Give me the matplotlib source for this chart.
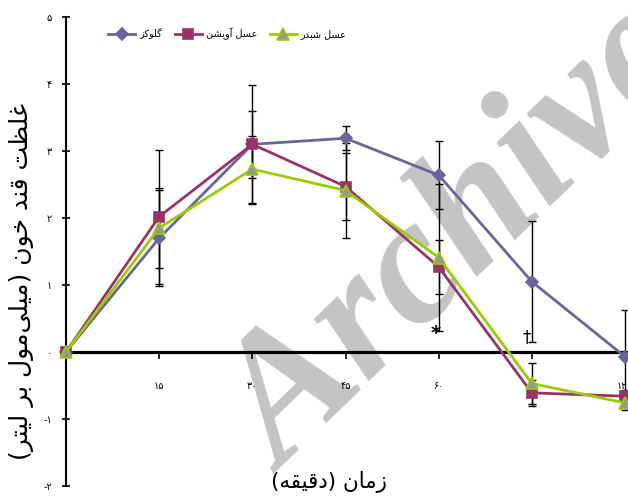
import matplotlib
matplotlib.use("Agg")
import matplotlib.pyplot as plt
import numpy as np

# ---------------- data ----------------
time_labels = ['۰', '۱۵', '۳۰', '۴۵', '۶۰', '۹۰', '۱۲۰']
glucose = [0, 1.70, 3.10, 3.19, 2.64, 1.05, -0.07]
glucose_err = [0, 0.72, 0.50, 0.18, 0.51, 0.90, 0.70]
thyme = [0, 2.02, 3.10, 2.47, 1.27, -0.61, -0.66]
thyme_err = [0, 1.00, 0.89, 0.50, 0.40, 0.19, 0.10]
clover = [0, 1.85, 2.73, 2.41, 1.41, -0.47, -0.76]
clover_err = [0, 0.60, 0.50, 0.71, 1.10, 0.30, 0.10]
series_names = ['گلوکز', 'عسل آویشن', 'عسل شبدر']
y_ticks = [-2, -1, 0, 1, 2, 3, 4, 5]
y_tick_labels = ['-۲', '-۱', '۰', '۱', '۲', '۳', '۴', '۵']
y_label = 'غلظت قند خون (میلی\u200cمول بر لیتر)'
x_label = 'زمان (دقیقه)'

# ---------------- simple Persian shaping ----------------
FORMS = {
    'ا': ('\uFE8D', '\uFE8E', None, None),
    'آ': ('\uFE81', '\uFE82', None, None),
    'ب': ('\uFE8F', '\uFE90', '\uFE91', '\uFE92'),
    'ت': ('\uFE95', '\uFE96', '\uFE97', '\uFE98'),
    'خ': ('\uFEA5', '\uFEA6', '\uFEA7', '\uFEA8'),
    'د': ('\uFEA9', '\uFEAA', None, None),
    'ر': ('\uFEAD', '\uFEAE', None, None),
    'ز': ('\uFEAF', '\uFEB0', None, None),
    'س': ('\uFEB1', '\uFEB2', '\uFEB3', '\uFEB4'),
    'ش': ('\uFEB5', '\uFEB6', '\uFEB7', '\uFEB8'),
    'ظ': ('\uFEC5', '\uFEC6', '\uFEC7', '\uFEC8'),
    'ع': ('\uFEC9', '\uFECA', '\uFECB', '\uFECC'),
    'غ': ('\uFECD', '\uFECE', '\uFECF', '\uFED0'),
    'ق': ('\uFED5', '\uFED6', '\uFED7', '\uFED8'),
    'ل': ('\uFEDD', '\uFEDE', '\uFEDF', '\uFEE0'),
    'م': ('\uFEE1', '\uFEE2', '\uFEE3', '\uFEE4'),
    'ن': ('\uFEE5', '\uFEE6', '\uFEE7', '\uFEE8'),
    'ه': ('\uFEE9', '\uFEEA', '\uFEEB', '\uFEEC'),
    'و': ('\uFEED', '\uFEEE', None, None),
    'ک': ('\uFB8E', '\uFB8F', '\uFB90', '\uFB91'),
    'گ': ('\uFB92', '\uFB93', '\uFB94', '\uFB95'),
    'ی': ('\uFBFC', '\uFBFD', '\uFBFE', '\uFBFF'),
}


def is_dual(c):
    return c in FORMS and FORMS[c][2] is not None


def is_joining(c):
    return c in FORMS


def shape(text):
    out = []
    n = len(text)
    for i, c in enumerate(text):
        if c == '\u200c':
            continue
        if c not in FORMS:
            out.append(c)
            continue
        prev = text[i - 1] if i > 0 else ''
        nxt = text[i + 1] if i + 1 < n else ''
        cp = is_dual(prev)
        cn = is_dual(c) and is_joining(nxt)
        iso, fin, ini, med = FORMS[c]
        if cp and cn:
            out.append(med)
        elif cp:
            out.append(fin)
        elif cn:
            out.append(ini)
        else:
            out.append(iso)
    vis = ''.join(reversed(out))
    vis = vis.translate(str.maketrans('()', ')('))
    return vis


FONT = ['DejaVu Sans']
plt.rcParams['font.family'] = FONT

# ---------------- figure ----------------
W, H = 628, 496
fig = plt.figure(figsize=(W / 100, H / 100), dpi=100)
ax_left = 66 / W
ax_bottom = (H - 486) / H
ax_top = (H - 17) / H
ax = fig.add_axes([ax_left, ax_bottom, 1 - ax_left, ax_top - ax_bottom])
ax.patch.set_visible(False)

x = np.arange(len(time_labels))
ax.set_xlim(0, 6 * (W - 66) / (625 - 66))
ax.set_ylim(-2, 5)

styles = [
    (glucose, glucose_err, '#666699', 'D', '#666699', '#666699', 6.5),
    (thyme, thyme_err, '#993366', 's', '#993366', '#993366', 7.5),
    (clover, clover_err, '#99CC00', '^', '#969696', '#99CC00', 8),
]
handles = []
for (vals, errs, col, mk, mfc, mec, ms), name in zip(styles, series_names):
    ax.errorbar(x, vals, yerr=errs, fmt='none', ecolor='black',
                elinewidth=1.0, capsize=2.6, capthick=1.0, zorder=2,
                clip_on=False)
for (vals, errs, col, mk, mfc, mec, ms), name in zip(styles, series_names):
    h, = ax.plot(x, vals, color=col, lw=2.0, marker=mk, markersize=ms,
                 markerfacecolor=mfc, markeredgecolor=mec, markeredgewidth=1.2,
                 zorder=3, clip_on=False, label=shape(name))
    handles.append(h)

# spines
for s in ['top', 'right']:
    ax.spines[s].set_visible(False)
ax.spines['bottom'].set_position(('data', 0))
ax.spines['bottom'].set_linewidth(2.3)
ax.spines['left'].set_linewidth(1.5)
ax.set_axisbelow(True)

ax.set_xticks(x[1:])
ax.set_xticklabels(time_labels[1:], fontsize=7)
ax.tick_params(axis='x', direction='out', length=5, width=1.2, pad=16)
ax.set_yticks(y_ticks)
ax.set_yticklabels(y_tick_labels, fontsize=7)
ax.tick_params(axis='y', direction='inout', length=6, width=1.2, pad=7)

# significance marks
ax.text(3.97, 0.28, '*', fontsize=14, ha='center', va='center', fontweight='bold')
ax.text(4.95, 0.22, '†', fontsize=12, ha='center', va='center')

# legend
leg = fig.legend(handles=handles, loc='center left',
                 bbox_to_anchor=(108 / W, (H - 34) / H), ncol=3, frameon=False,
                 fontsize=7, handlelength=2.8, handletextpad=0.4,
                 columnspacing=1.3, borderaxespad=0, borderpad=0)

# axis labels
fig.text(22 / W, (H - 282) / H, shape(y_label), rotation=90, ha='center',
         va='center', fontsize=18)
fig.text(329 / W, (H - 482) / H, shape(x_label), ha='center', va='center',
         fontsize=15.5)

# watermark
fig.text(283 / W, (H - 474) / H, 'Archive', rotation=44, rotation_mode='anchor',
         ha='left', va='baseline', fontsize=130, color='#C4C4C4',
         family='Liberation Serif', fontweight='bold', fontstyle='italic',
         zorder=-1)

fig.savefig('out.png', dpi=100)
